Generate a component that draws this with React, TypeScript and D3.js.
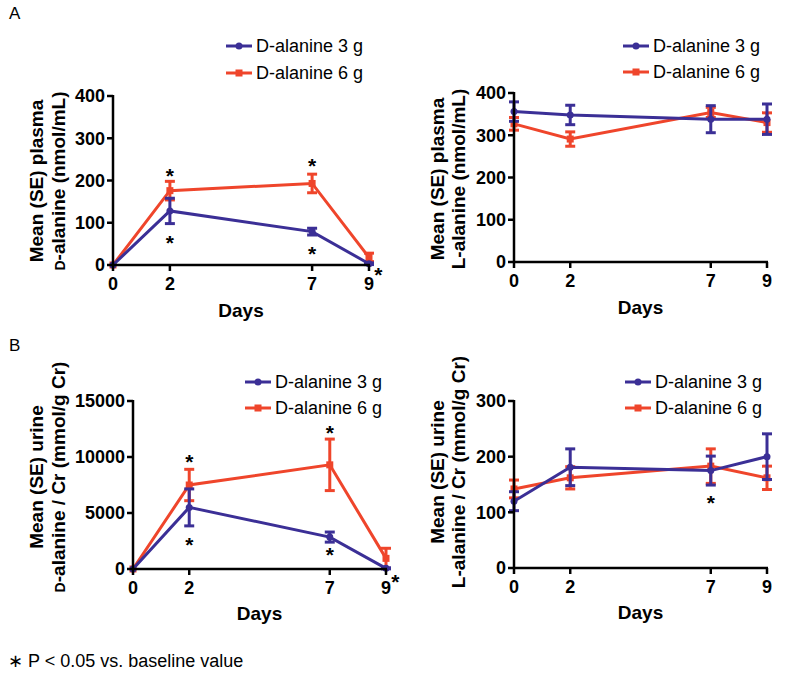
import React from "react";
import * as d3 from "d3";

const days = [0, 2, 7, 9];
const seriesNames = ["D-alanine 3 g", "D-alanine 6 g"];
const colors = ["#3b2f96", "#ef452b"];

const plasmaD3 = [0, 128, 79, 3];
const plasmaD3Err = [0, 30, 8, 2];
const plasmaD6 = [0, 176, 193, 18];
const plasmaD6Err = [0, 22, 22, 10];

const plasmaL3 = [356, 348, 338, 338];
const plasmaL3Err = [23, 23, 32, 36];
const plasmaL6 = [327, 291, 354, 330];
const plasmaL6Err = [15, 17, 12, 23];

const urineD3 = [0, 5500, 2850, 60];
const urineD3Err = [0, 1650, 450, 50];
const urineD6 = [0, 7500, 9300, 950];
const urineD6Err = [0, 1400, 2300, 900];

const urineL3 = [120, 181, 175, 200];
const urineL3Err = [17, 33, 26, 41];
const urineL6 = [142, 162, 183, 162];
const urineL6Err = [16, 20, 31, 21];

const plasmaTicks = [0, 100, 200, 300, 400];
const urineDTicks = [0, 5000, 10000, 15000];
const urineLTicks = [0, 100, 200, 300];

// asterisk annotations [day, value]
const starsPlasmaD = [[2, 222], [2, 64], [7, 246], [7, 38], [9.33, -12]];
const starsUrineD = [[2, 10000], [2, 2590], [7, 12590], [7, 1700], [9.33, -714]];
const starsUrineL = [[7, 126]];

const FONT = "'Liberation Sans', Arial, Helvetica, sans-serif";

type Panel = {
  x0: number; x1: number; yTop: number; yBot: number;
  yMax: number; ticks: number[];
  s3: number[]; e3: number[]; s6: number[]; e6: number[];
  stars: number[][];
  label1: string; label2: React.ReactNode;
  lab1x: number; lab2x: number; labCy: number;
  legX: number; legY: number; legGap: number;
  tickLabY: number; daysY: number;
};

function ChartPanel({ p }: { p: Panel }) {
  const x = d3.scaleLinear().domain([0, 9]).range([p.x0, p.x1]);
  const y = d3.scaleLinear().domain([0, p.yMax]).range([p.yBot, p.yTop]);
  const line = d3.line<number>().x((_, i) => x(days[i])).y((v) => y(v));
  const series = [
    { v: p.s6, e: p.e6, c: colors[1], sq: true },
    { v: p.s3, e: p.e3, c: colors[0], sq: false },
  ];
  const cap = 5;
  return (
    <g>
      {series.map((s, si) => (
        <g key={si}>
          <path d={line(s.v) || ""} fill="none" stroke={s.c} strokeWidth={3} />
          {s.v.map((v, i) =>
            s.e[i] > 0 ? (
              <g key={i} stroke={s.c} strokeWidth={3}>
                <line x1={x(days[i])} x2={x(days[i])} y1={y(v - s.e[i])} y2={y(v + s.e[i])} />
                <line x1={x(days[i]) - cap} x2={x(days[i]) + cap} y1={y(v + s.e[i])} y2={y(v + s.e[i])} />
                <line x1={x(days[i]) - cap} x2={x(days[i]) + cap} y1={y(v - s.e[i])} y2={y(v - s.e[i])} />
              </g>
            ) : null
          )}
          {s.v.map((v, i) =>
            s.sq ? (
              <rect key={"m" + i} x={x(days[i]) - 3.5} y={y(v) - 3.5} width={7} height={7} fill={s.c} />
            ) : (
              <circle key={"m" + i} cx={x(days[i])} cy={y(v)} r={3.5} fill={s.c} />
            )
          )}
        </g>
      ))}
      {/* axes */}
      <line x1={p.x0} x2={p.x0} y1={p.yTop - 1} y2={p.yBot + 1} stroke="#000" strokeWidth={2.5} />
      <line x1={p.x0 - 1} x2={p.x1 + 1} y1={p.yBot} y2={p.yBot} stroke="#000" strokeWidth={2.5} />
      {p.ticks.map((t) => (
        <g key={t}>
          <line x1={p.x0 - 6} x2={p.x0} y1={y(t)} y2={y(t)} stroke="#000" strokeWidth={2.5} />
          <text x={p.x0 - 8} y={y(t)} dy="0.36em" textAnchor="end" fontFamily={FONT} fontWeight="bold" fontSize={18}>
            {t}
          </text>
        </g>
      ))}
      {days.map((d) => (
        <g key={d}>
          <line x1={x(d)} x2={x(d)} y1={p.yBot} y2={p.yBot + 6} stroke="#000" strokeWidth={2.5} />
          <text x={x(d)} y={p.tickLabY} textAnchor="middle" fontFamily={FONT} fontWeight="bold" fontSize={18}>
            {d}
          </text>
        </g>
      ))}
      <text x={(p.x0 + p.x1) / 2} y={p.daysY} textAnchor="middle" fontFamily={FONT} fontWeight="bold" fontSize={19}>
        Days
      </text>
      <text transform={`translate(${p.lab1x},${p.labCy}) rotate(-90)`} textAnchor="middle" dy="0.36em" fontFamily={FONT} fontWeight="bold" fontSize={19}>
        {p.label1}
      </text>
      <text transform={`translate(${p.lab2x},${p.labCy}) rotate(-90)`} textAnchor="middle" dy="0.36em" fontFamily={FONT} fontWeight="bold" fontSize={19}>
        {p.label2}
      </text>
      {p.stars.map((s, i) => (
        <text key={i} x={x(s[0])} y={y(s[1]) + 12} textAnchor="middle" fontFamily={FONT} fontWeight="bold" fontSize={21}>
          *
        </text>
      ))}
      {/* legend */}
      {[0, 1].map((k) => (
        <g key={k} transform={`translate(${p.legX},${p.legY + k * p.legGap})`}>
          <line x1={0} x2={26} y1={0} y2={0} stroke={colors[k]} strokeWidth={3} />
          {k === 0 ? (
            <circle cx={13} cy={0} r={3.5} fill={colors[k]} />
          ) : (
            <rect x={9.5} y={-3.5} width={7} height={7} fill={colors[k]} />
          )}
          <text x={30} y={0} dy="0.36em" fontFamily={FONT} fontSize={18}>
            {seriesNames[k]}
          </text>
        </g>
      ))}
    </g>
  );
}

const smallD = (rest: string) => (
  <>
    <tspan fontSize={14}>D</tspan>
    {rest}
  </>
);

export default function App() {
  const panels: Panel[] = [
    {
      x0: 113, x1: 369, yTop: 96, yBot: 265, yMax: 400, ticks: plasmaTicks,
      s3: plasmaD3, e3: plasmaD3Err, s6: plasmaD6, e6: plasmaD6Err, stars: starsPlasmaD,
      label1: "Mean (SE) plasma", label2: smallD("-alanine (nmol/mL)"),
      lab1x: 36, lab2x: 58, labCy: 181,
      legX: 226, legY: 46, legGap: 27, tickLabY: 290, daysY: 317,
    },
    {
      x0: 514, x1: 767, yTop: 93, yBot: 262, yMax: 400, ticks: plasmaTicks,
      s3: plasmaL3, e3: plasmaL3Err, s6: plasmaL6, e6: plasmaL6Err, stars: [],
      label1: "Mean (SE) plasma", label2: "L-alanine (nmol/mL)",
      lab1x: 437, lab2x: 458, labCy: 179,
      legX: 623, legY: 46, legGap: 26, tickLabY: 287, daysY: 314,
    },
    {
      x0: 133, x1: 386, yTop: 401, yBot: 569, yMax: 15000, ticks: urineDTicks,
      s3: urineD3, e3: urineD3Err, s6: urineD6, e6: urineD6Err, stars: starsUrineD,
      label1: "Mean (SE) urine", label2: smallD("-alanine / Cr (mmol/g Cr)"),
      lab1x: 36, lab2x: 58, labCy: 477,
      legX: 245, legY: 382, legGap: 26, tickLabY: 594, daysY: 620,
    },
    {
      x0: 514, x1: 767, yTop: 401, yBot: 568, yMax: 300, ticks: urineLTicks,
      s3: urineL3, e3: urineL3Err, s6: urineL6, e6: urineL6Err, stars: starsUrineL,
      label1: "Mean (SE) urine", label2: "L-alanine / Cr (mmol/g Cr)",
      lab1x: 437, lab2x: 458, labCy: 472,
      legX: 625, legY: 382, legGap: 26, tickLabY: 593, daysY: 619,
    },
  ];
  return (
    <svg width={787} height={676} style={{ position: "absolute", left: 0, top: 0, background: "#fff" }}>
      <rect width={787} height={676} fill="#fff" />
      <text x={9} y={19} fontFamily={FONT} fontSize={17}>A</text>
      <text x={9} y={351} fontFamily={FONT} fontSize={17}>B</text>
      {panels.map((p, i) => (
        <ChartPanel key={i} p={p} />
      ))}
      <text x={8} y={667} fontFamily={FONT} fontSize={18}>∗ P &lt; 0.05 vs. baseline value</text>
    </svg>
  );
}
